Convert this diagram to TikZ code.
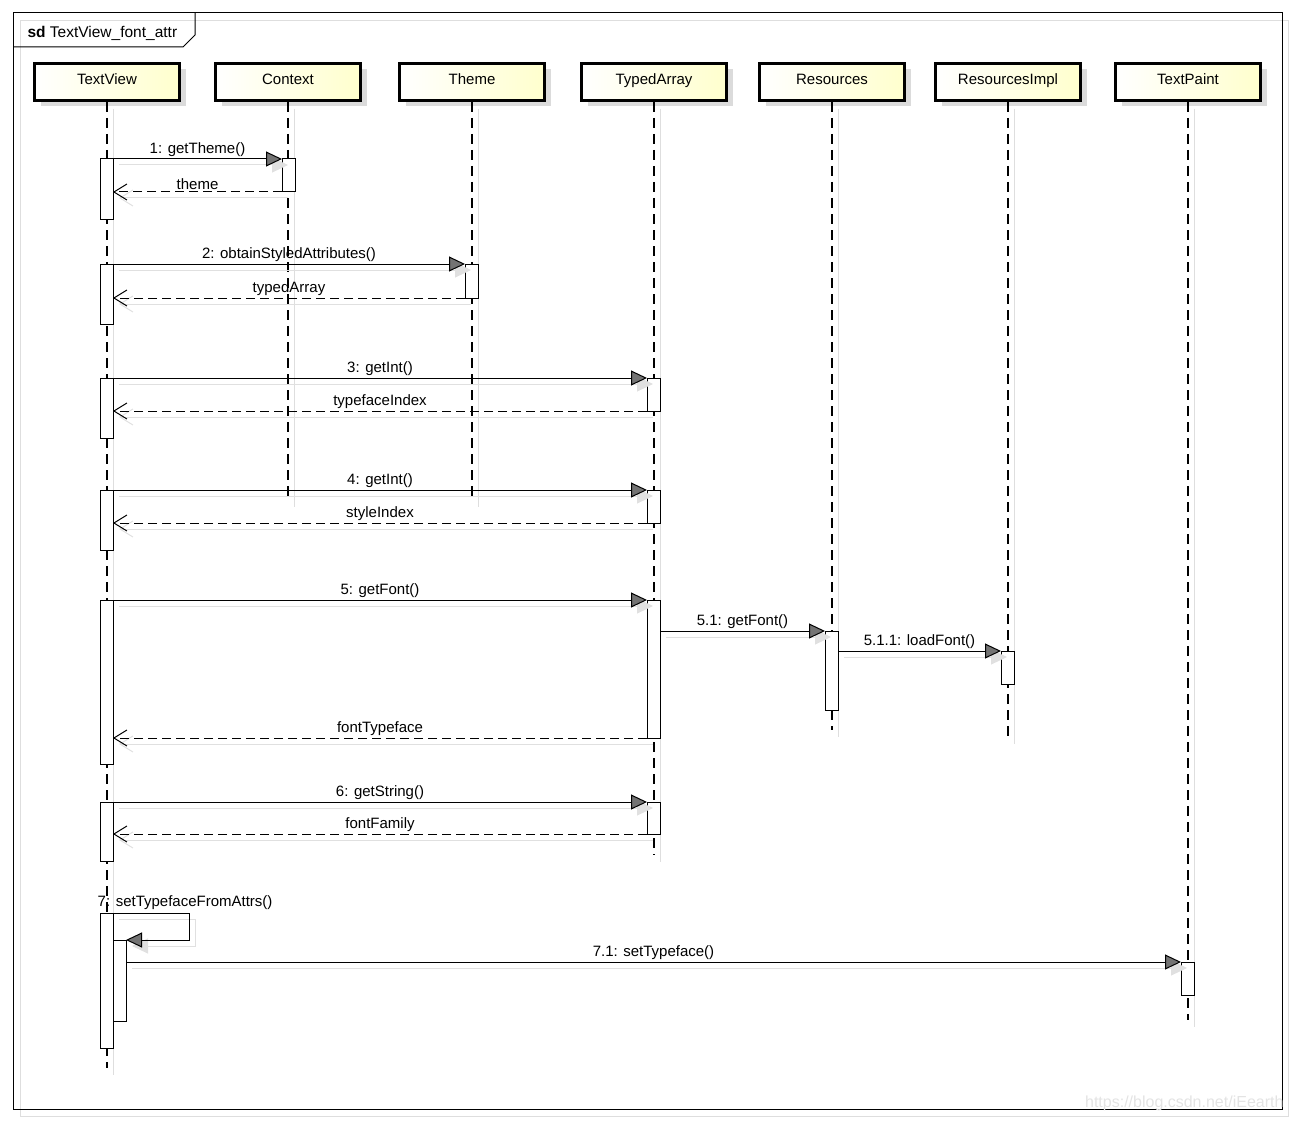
\documentclass[tikz,border=0pt]{standalone}
\usepackage{fontspec}
\setmainfont{Liberation Sans}
\usepackage{tikz}
\usetikzlibrary{arrows.meta,positioning,shadows}
\definecolor{headyellow}{RGB}{255,255,205}

\begin{document}
\begin{tikzpicture}[
  x=1pt, y=-1pt,
  every node/.style={font=\fontsize{15}{18}\selectfont},
  lifehead/.style={draw, line width=3pt, minimum width=145, minimum height=37,
                   left color=white, right color=headyellow, inner sep=0pt,
                   text height=11pt, text depth=5pt,
                   drop shadow={shadow xshift=6pt, shadow yshift=-6pt,
                                fill=black!14, opacity=1}},
  lifeline/.style={line width=1.2pt, dash pattern=on 10pt off 6pt},
  lifeshd/.style ={draw=black!13, line width=1pt,
                   transform canvas={shift={(6pt,-7pt)}}},
  actbox/.style  ={draw, fill=white, line width=1pt, minimum width=13,
                   inner sep=0pt, outer sep=0pt, anchor=north},
  call/.style    ={line width=1pt, -{Triangle[length=16pt, width=15pt, fill=black!55]}},
  reply/.style   ={line width=1pt, dash pattern=on 9pt off 5pt,
                   -{Straight Barb[length=13pt, width=16pt]}},
  callshd/.style ={draw=black!12, line width=1pt,
                   -{Triangle[length=16pt, width=15pt, fill=black!12]},
                   transform canvas={shift={(6pt,-6pt)}}},
  replyshd/.style={draw=black!12, line width=1pt,
                   -{Straight Barb[length=13pt, width=16pt]},
                   transform canvas={shift={(6pt,-6pt)}}},
  lbl/.style     ={inner sep=1.5pt}
]
\useasboundingbox (0,0) rectangle (1294,1121);

% Frame
\draw[black!13] (20,20) rectangle (1288,1116);
\draw[line width=1pt] (13,13) rectangle (1282,1109);
\draw[line width=1pt] (13,47) -- (183,47) -- (195,35) -- (195,13);
\node[anchor=west, font=\fontsize{15.5}{18}\selectfont] (frametag) at (24,33)
     {\textbf{sd} TextView\_font\_attr};
\node[anchor=east, text=black!11, font=\fontsize{16}{18}\selectfont]
     (mark) at (1287,1103) {https://blog.csdn.net/iEearth};

% Lifeline heads
\node[lifehead] (tv) at (107,82)    {TextView};
\node[lifehead] (cx) at (288,82)    {Context};
\node[lifehead] (th) at (472,82)    {Theme};
\node[lifehead] (ta) at (654,82)    {TypedArray};
\node[lifehead] (rs) at (832,82)    {Resources};
\node[lifehead] (ri) at (1008,82)   {ResourcesImpl};
\node[lifehead] (tp) at (1188,82)   {TextPaint};

\coordinate (tvEnd) at (107,1068);
\coordinate (cxEnd) at (288,500);
\coordinate (thEnd) at (472,500);
\coordinate (taEnd) at (654,855);
\coordinate (rsEnd) at (832,730);
\coordinate (riEnd) at (1008,737);
\coordinate (tpEnd) at (1188,1020);

% Lifelines
\draw[lifeshd] (tv.south) -- (tvEnd);
\draw[lifeshd] (cx.south) -- (cxEnd);
\draw[lifeshd] (th.south) -- (thEnd);
\draw[lifeshd] (ta.south) -- (taEnd);
\draw[lifeshd] (rs.south) -- (rsEnd);
\draw[lifeshd] (ri.south) -- (riEnd);
\draw[lifeshd] (tp.south) -- (tpEnd);

\draw[lifeline] (tv.south) -- (tvEnd);
\draw[lifeline] (cx.south) -- (cxEnd);
\draw[lifeline] (th.south) -- (thEnd);
\draw[lifeline] (ta.south) -- (taEnd);
\draw[lifeline] (rs.south) -- (rsEnd);
\draw[lifeline] (ri.south) -- (riEnd);
\draw[lifeline] (tp.south) -- (tpEnd);

% Activations
\node[actbox, minimum height=60]  (tvA1) at (106.5,159) {};
\node[actbox, minimum height=33]  (cxA1) at (288.5,159) {};
\node[actbox, minimum height=60]  (tvA2) at (106.5,264) {};
\node[actbox, minimum height=34]  (thA1) at (471.5,264) {};
\node[actbox, minimum height=60]  (tvA3) at (106.5,378) {};
\node[actbox, minimum height=33]  (taA1) at (653.5,378) {};
\node[actbox, minimum height=60]  (tvA4) at (106.5,490) {};
\node[actbox, minimum height=33]  (taA2) at (653.5,490) {};
\node[actbox, minimum height=164] (tvA5) at (106.5,600) {};
\node[actbox, minimum height=138] (taA3) at (653.5,600) {};
\node[actbox, minimum height=79]  (rsA1) at (831.5,631) {};
\node[actbox, minimum height=33]  (riA1) at (1007.5,651) {};
\node[actbox, minimum height=59]  (tvA6) at (106.5,802) {};
\node[actbox, minimum height=32]  (taA4) at (653.5,802) {};
\node[actbox, minimum height=135] (tvA7) at (106.5,913) {};
\node[actbox, minimum height=81]  (tvA8) at (119.5,940) {};
\node[actbox, minimum height=33]  (tpA1) at (1187.5,962) {};

% Message shadows
\draw[callshd]  (tvA1.north east) -- (cxA1.north west);
\draw[replyshd] (cxA1.south west) -- (cxA1.south west -| tvA1.east);
\draw[callshd]  (tvA2.north east) -- (thA1.north west);
\draw[replyshd] (thA1.south west) -- (thA1.south west -| tvA2.east);
\draw[callshd]  (tvA3.north east) -- (taA1.north west);
\draw[replyshd] (taA1.south west) -- (taA1.south west -| tvA3.east);
\draw[callshd]  (tvA4.north east) -- (taA2.north west);
\draw[replyshd] (taA2.south west) -- (taA2.south west -| tvA4.east);
\draw[callshd]  (tvA5.north east) -- (taA3.north west);
\draw[callshd]  (taA3.east |- rsA1.north) -- (rsA1.north west);
\draw[callshd]  (rsA1.east |- riA1.north) -- (riA1.north west);
\draw[replyshd] (taA3.south west) -- (taA3.south west -| tvA5.east);
\draw[callshd]  (tvA6.north east) -- (taA4.north west);
\draw[replyshd] (taA4.south west) -- (taA4.south west -| tvA6.east);
\draw[callshd]  (tvA7.north east) -- ++(76,0) |- (tvA8.north east);
\draw[callshd]  (tvA8.east |- tpA1.north) -- (tpA1.north west);

% Messages
\draw[call]  (tvA1.north east) -- node[lbl, midway, above]{1: getTheme()} (cxA1.north west);
\draw[reply] (cxA1.south west) -- node[lbl, midway, above]{theme} (cxA1.south west -| tvA1.east);

\draw[call]  (tvA2.north east) -- node[lbl, midway, above]{2: obtainStyledAttributes()} (thA1.north west);
\draw[reply] (thA1.south west) -- node[lbl, midway, above]{typedArray} (thA1.south west -| tvA2.east);

\draw[call]  (tvA3.north east) -- node[lbl, midway, above]{3: getInt()} (taA1.north west);
\draw[reply] (taA1.south west) -- node[lbl, midway, above]{typefaceIndex} (taA1.south west -| tvA3.east);

\draw[call]  (tvA4.north east) -- node[lbl, midway, above]{4: getInt()} (taA2.north west);
\draw[reply] (taA2.south west) -- node[lbl, midway, above]{styleIndex} (taA2.south west -| tvA4.east);

\draw[call]  (tvA5.north east) -- node[lbl, midway, above]{5: getFont()} (taA3.north west);
\draw[call]  (taA3.east |- rsA1.north) -- node[lbl, midway, above]{5.1: getFont()} (rsA1.north west);
\draw[call]  (rsA1.east |- riA1.north) -- node[lbl, midway, above]{5.1.1: loadFont()} (riA1.north west);
\draw[reply] (taA3.south west) -- node[lbl, midway, above]{fontTypeface} (taA3.south west -| tvA5.east);

\draw[call]  (tvA6.north east) -- node[lbl, midway, above]{6: getString()} (taA4.north west);
\draw[reply] (taA4.south west) -- node[lbl, midway, above]{fontFamily} (taA4.south west -| tvA6.east);

% Self call
\node[lbl, anchor=south west] (selfLbl) at ([xshift=-4pt, yshift=2pt]tvA7.north west)
     {7: setTypefaceFromAttrs()};
\draw[call]  (tvA7.north east) -- ++(76,0) |- (tvA8.north east);
\draw[call]  (tvA8.east |- tpA1.north) -- node[lbl, midway, above]{7.1: setTypeface()} (tpA1.north west);

\end{tikzpicture}
\end{document}
